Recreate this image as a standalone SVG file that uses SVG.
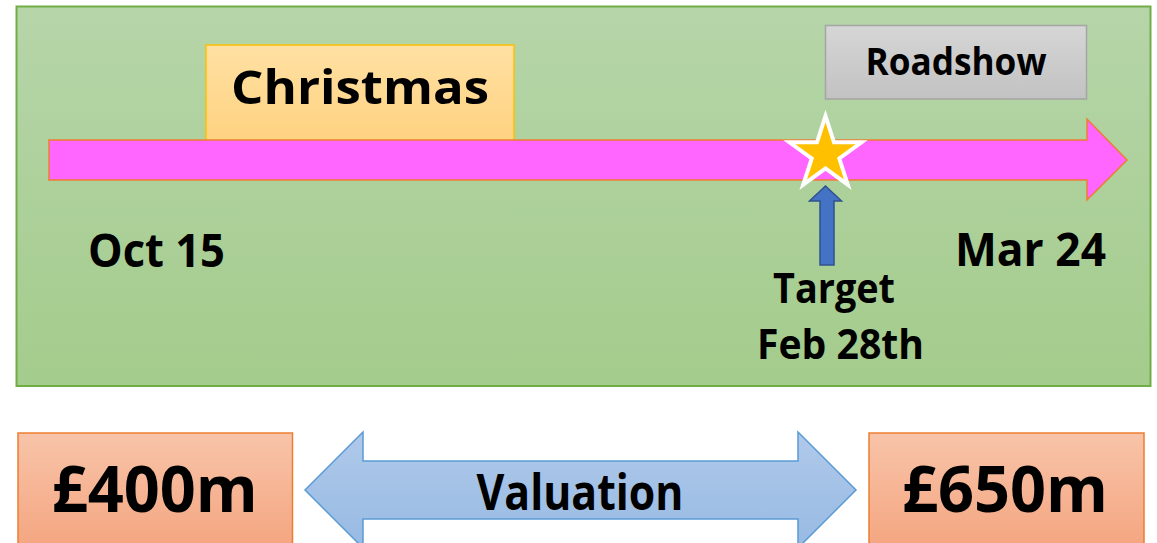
<svg xmlns="http://www.w3.org/2000/svg" width="1157" height="543" viewBox="0 0 1157 543">
  <defs>
    <linearGradient id="gGreen" x1="0" y1="0" x2="0" y2="1">
      <stop offset="0" stop-color="#B6D5A9"/>
      <stop offset="1" stop-color="#A4CC8C"/>
    </linearGradient>
    <linearGradient id="gGold" x1="0" y1="0" x2="0" y2="1">
      <stop offset="0" stop-color="#FFE0A3"/>
      <stop offset="1" stop-color="#FFD27F"/>
    </linearGradient>
    <linearGradient id="gGrey" x1="0" y1="0" x2="0" y2="1">
      <stop offset="0" stop-color="#D6D6D6"/>
      <stop offset="1" stop-color="#C2C2C2"/>
    </linearGradient>
    <linearGradient id="gOrange" x1="0" y1="0" x2="0" y2="1">
      <stop offset="0" stop-color="#F8C4A9"/>
      <stop offset="1" stop-color="#F4A47E"/>
    </linearGradient>
    <linearGradient id="gBlue" x1="0" y1="0" x2="0" y2="1">
      <stop offset="0" stop-color="#AFC9EA"/>
      <stop offset="1" stop-color="#98BAE3"/>
    </linearGradient>
  </defs>
  <style>
    text { font-family: "Open Sans", Lato, "Liberation Sans", sans-serif; font-weight: bold; fill: #000; text-anchor: middle; }
  </style>

  <rect width="1157" height="543" fill="#FFFFFF"/>

  <!-- timeline panel -->
  <g id="panel">
    <rect x="16.5" y="6.5" width="1134" height="379.5" fill="url(#gGreen)" stroke="#70AD47" stroke-width="2"/>
  </g>

  <g id="christmas">
    <rect x="206" y="45" width="308" height="100" fill="url(#gGold)" stroke="#FFC000" stroke-width="1.5"/>
    <text x="360" y="104" font-size="46" textLength="258" lengthAdjust="spacingAndGlyphs">Christmas</text>
  </g>

  <g id="roadshow">
    <rect x="825.5" y="25.5" width="261" height="73.5" fill="url(#gGrey)" stroke="#A5A5A5" stroke-width="1.5"/>
    <text x="956" y="75" font-size="37.5" textLength="181" lengthAdjust="spacingAndGlyphs">Roadshow</text>
  </g>

  <!-- timeline arrow -->
  <g id="timeline">
    <path d="M49,140 H1087 V119 L1127,160 L1087,200 V180 H49 Z" fill="#FF66FF" stroke="#ED7D31" stroke-width="1.5"/>
  </g>

  <g id="star">
    <polygon points="825.5,116 834,142.3 861.6,142.3 839.3,158.5 847.8,184.7 825.5,168.5 803.2,184.7 811.7,158.5 789.4,142.3 817,142.3" fill="#FFC000" stroke="#FFFFFF" stroke-width="4"/>
  </g>

  <g id="connectors">
    <path d="M825.5,186 L841.5,201 H834 V265 H820 V201 H809.5 Z" fill="#4472C4" stroke="#2F528F" stroke-width="1.5"/>
  </g>

  <g id="oct15">
    <text x="156.5" y="266.5" font-size="46" textLength="137" lengthAdjust="spacingAndGlyphs">Oct 15</text>
  </g>
  <g id="mar24">
    <text x="1030.5" y="265.5" font-size="46" textLength="151" lengthAdjust="spacingAndGlyphs">Mar 24</text>
  </g>
  <g id="target">
    <text x="834" y="302.5" font-size="41" textLength="122" lengthAdjust="spacingAndGlyphs">Target</text>
    <text x="840.5" y="359" font-size="41" textLength="167" lengthAdjust="spacingAndGlyphs">Feb 28th</text>
  </g>

  <!-- valuation range -->
  <g id="low">
    <rect x="18" y="433" width="274.5" height="120" fill="url(#gOrange)" stroke="#ED7D31" stroke-width="1.5"/>
    <text x="154.7" y="512" font-size="65" textLength="206" lengthAdjust="spacingAndGlyphs">£400m</text>
  </g>
  <g id="valuation">
    <path d="M305,490 L363,432 V461 H798 V432 L856,490 L798,548 V519 H363 V548 Z" fill="url(#gBlue)" stroke="#5B9BD5" stroke-width="1.5"/>
    <text x="580" y="509.5" font-size="51" textLength="207" lengthAdjust="spacingAndGlyphs">Valuation</text>
  </g>
  <g id="high">
    <rect x="869" y="433" width="275" height="120" fill="url(#gOrange)" stroke="#ED7D31" stroke-width="1.5"/>
    <text x="1005" y="512" font-size="65" textLength="206" lengthAdjust="spacingAndGlyphs">£650m</text>
  </g>
</svg>
